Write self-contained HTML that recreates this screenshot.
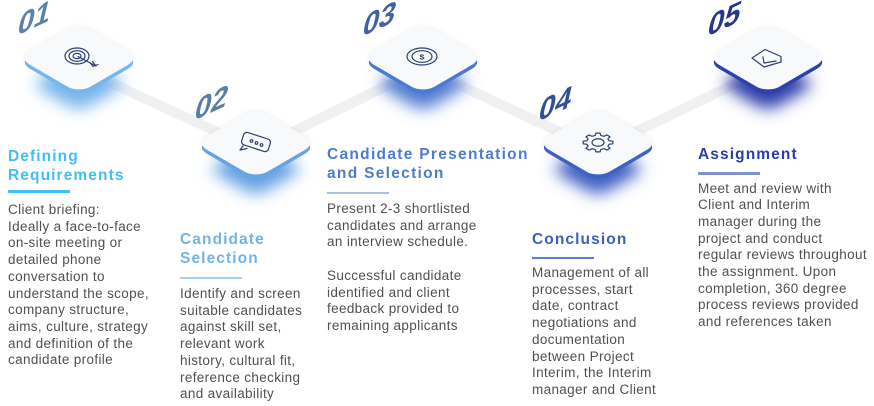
<!DOCTYPE html>
<html><head><meta charset="utf-8"><style>
html,body{margin:0;padding:0;background:#fff;}
body{width:874px;height:406px;position:relative;overflow:hidden;font-family:"Liberation Sans",sans-serif;}
svg{position:absolute;left:0;top:0;}
.h{position:absolute;font-weight:bold;font-size:15.5px;line-height:19px;letter-spacing:1.1px;white-space:nowrap;}
.u{position:absolute;width:62px;height:2.5px;}
.b{position:absolute;font-size:13.5px;line-height:16.7px;letter-spacing:0.35px;color:#505050;white-space:nowrap;}
</style></head><body>
<svg width="874" height="406" viewBox="0 0 874 406">
<defs>
<filter id="bl" x="-60%" y="-60%" width="220%" height="220%"><feGaussianBlur stdDeviation="8"/></filter>
<filter id="bl2" x="-50%" y="-50%" width="200%" height="200%"><feGaussianBlur stdDeviation="3"/></filter>
<g id="face"><rect x="-43" y="-43" width="86" height="86" rx="16" ry="16"/></g>
<g id="shad"><rect x="-34" y="-34" width="68" height="68" rx="14" ry="14"/></g>
</defs>
<!-- bands -->
<g stroke="#f0f0f0" stroke-width="10" fill="none">
<line x1="79" y1="68" x2="256" y2="150"/>
<line x1="256" y1="150" x2="423" y2="68"/>
<line x1="423" y1="68" x2="598" y2="150"/>
<line x1="598" y1="150" x2="768" y2="68"/>
</g>
<!-- shadows -->
<g filter="url(#bl)">
<use href="#shad" transform="translate(79,84) scale(1,0.58) rotate(45)" fill="#74b4ec"/>
<use href="#shad" transform="translate(256,169) scale(1,0.58) rotate(45)" fill="#64a0e4"/>
<use href="#shad" transform="translate(423,84) scale(1,0.58) rotate(45)" fill="#4f7ad2"/>
<use href="#shad" transform="translate(598,169) scale(1,0.58) rotate(45)" fill="#3d5ec4"/>
<use href="#shad" transform="translate(768,84) scale(1,0.58) rotate(45)" fill="#2a3ca8"/>
</g>
<!-- halo -->
<g filter="url(#bl2)" opacity="0.07" fill="#000">
<use href="#face" transform="translate(79,58) scale(1,0.58) rotate(45)"/>
<use href="#face" transform="translate(256,143) scale(1,0.58) rotate(45)"/>
<use href="#face" transform="translate(423,58) scale(1,0.58) rotate(45)"/>
<use href="#face" transform="translate(598,143) scale(1,0.58) rotate(45)"/>
<use href="#face" transform="translate(768,58) scale(1,0.58) rotate(45)"/>
</g>
<!-- thickness -->
<use href="#face" transform="translate(79,62) scale(1,0.58) rotate(45)" fill="#79b5e8"/>
<use href="#face" transform="translate(256,147) scale(1,0.58) rotate(45)" fill="#69a3e0"/>
<use href="#face" transform="translate(423,62) scale(1,0.58) rotate(45)" fill="#4c7ad0"/>
<use href="#face" transform="translate(598,147) scale(1,0.58) rotate(45)" fill="#3e61c3"/>
<use href="#face" transform="translate(768,62) scale(1,0.58) rotate(45)" fill="#2e41aa"/>
<!-- top faces -->
<g fill="#f8f9fb">
<use href="#face" transform="translate(79,58) scale(1,0.58) rotate(45)"/>
<use href="#face" transform="translate(256,143) scale(1,0.58) rotate(45)"/>
<use href="#face" transform="translate(423,58) scale(1,0.58) rotate(45)"/>
<use href="#face" transform="translate(598,143) scale(1,0.58) rotate(45)"/>
<use href="#face" transform="translate(768,58) scale(1,0.58) rotate(45)"/>
</g>
<!-- icons -->
<g stroke="#2d3f6e" stroke-width="1.2" fill="none" stroke-linecap="round" stroke-linejoin="round">
<ellipse cx="77" cy="56" rx="12" ry="8"/>
<ellipse cx="77" cy="56" rx="8" ry="5.3"/>
<ellipse cx="77" cy="56" rx="4" ry="2.6"/>
<line x1="78" y1="56.5" x2="96" y2="66"/>
<path d="M90,62.5 L93,66.5 M92.5,61.5 L95.5,65.5 M94,66 L98,64.5"/>
<g transform="translate(256,142) rotate(18)">
<rect x="-14" y="-6.5" width="28" height="13" rx="3.5"/>
</g>
<path d="M243,146 L240,150 L247,148.5"/>
<circle cx="251.5" cy="141" r="1.3"/>
<circle cx="256.5" cy="143" r="1.3"/>
<circle cx="261.5" cy="145" r="1.3"/>
<ellipse cx="422" cy="56.5" rx="15" ry="8.5"/>
<ellipse cx="422" cy="56.5" rx="10" ry="5.8"/>
<g transform="translate(598,142.5) scale(1,0.63)">
<polygon vector-effect="non-scaling-stroke" points="11.16,-2.78 14.85,-2.09 14.85,2.09 11.16,2.78 9.86,5.92 11.98,9.03 9.03,11.98 5.92,9.86 2.78,11.16 2.09,14.85 -2.09,14.85 -2.78,11.16 -5.92,9.86 -9.03,11.98 -11.98,9.03 -9.86,5.92 -11.16,2.78 -14.85,2.09 -14.85,-2.09 -11.16,-2.78 -9.86,-5.92 -11.98,-9.03 -9.03,-11.98 -5.92,-9.86 -2.78,-11.16 -2.09,-14.85 2.09,-14.85 2.78,-11.16 5.92,-9.86 9.03,-11.98 11.98,-9.03 9.86,-5.92"/>
<circle vector-effect="non-scaling-stroke" cx="0" cy="0" r="6"/>
</g>
<path d="M752,58 L765,49.5 L781,56.5 L781,62 L764,67 Z"/>
<path d="M763,57 L764,63 L776,61"/>
</g>
<text x="422" y="60" font-family="Liberation Sans, sans-serif" font-size="9" font-weight="bold" fill="#2d3f6e" text-anchor="middle" transform="translate(422,57) scale(1,0.8) translate(-422,-57)">$</text>
<!-- numbers -->
<g font-family="Liberation Sans, sans-serif" font-weight="bold" font-size="29">
<text transform="translate(16,36) skewY(-25) skewX(-15)" fill="#5b81a9">01</text>
<text transform="translate(193,121) skewY(-25) skewX(-15)" fill="#587ea6">02</text>
<text transform="translate(361,37) skewY(-25) skewX(-15)" fill="#3f62a6">03</text>
<text transform="translate(537,122) skewY(-25) skewX(-15)" fill="#2f4f98">04</text>
<text transform="translate(706,37) skewY(-25) skewX(-15)" fill="#24388b">05</text>
</g>
</svg>

<div class="h" style="left:8px;top:147.4px;color:#40bff5;">Defining<br>Requirements</div>
<div class="u" style="left:8px;top:190px;background:#41bff4;"></div>
<div class="b" style="left:8px;top:202px;">Client briefing:<br>Ideally a face-to-face<br>on-site meeting or<br>detailed phone<br>conversation to<br>understand the scope,<br>company structure,<br>aims, culture, strategy<br>and definition of the<br>candidate profile</div>

<div class="h" style="left:180px;top:230.4px;color:#71b3e7;">Candidate<br>Selection</div>
<div class="u" style="left:180px;top:276.5px;background:#a5cff0;"></div>
<div class="b" style="left:180px;top:286px;">Identify and screen<br>suitable candidates<br>against skill set,<br>relevant work<br>history, cultural fit,<br>reference checking<br>and availability</div>

<div class="h" style="left:327px;top:145.4px;color:#4c7dcc;letter-spacing:1.3px;">Candidate Presentation<br>and Selection</div>
<div class="u" style="left:327px;top:191.5px;background:#a9bfe7;"></div>
<div class="b" style="left:327px;top:201px;">Present 2-3 shortlisted<br>candidates and arrange<br>an interview schedule.<br><br>Successful candidate<br>identified and client<br>feedback provided to<br>remaining applicants</div>

<div class="h" style="left:532px;top:230.4px;color:#3b5fc0;">Conclusion</div>
<div class="u" style="left:532px;top:256.5px;background:#5d7fd2;"></div>
<div class="b" style="left:532px;top:265px;">Management of all<br>processes, start<br>date, contract<br>negotiations and<br>documentation<br>between Project<br>Interim, the Interim<br>manager and Client</div>

<div class="h" style="left:698px;top:144.7px;color:#2c3ea5;">Assignment</div>
<div class="u" style="left:698px;top:172px;background:#8090d2;"></div>
<div class="b" style="left:698px;top:180.5px;">Meet and review with<br>Client and Interim<br>manager during the<br>project and conduct<br>regular reviews throughout<br>the assignment. Upon<br>completion, 360 degree<br>process reviews provided<br>and references taken</div>
</body></html>
